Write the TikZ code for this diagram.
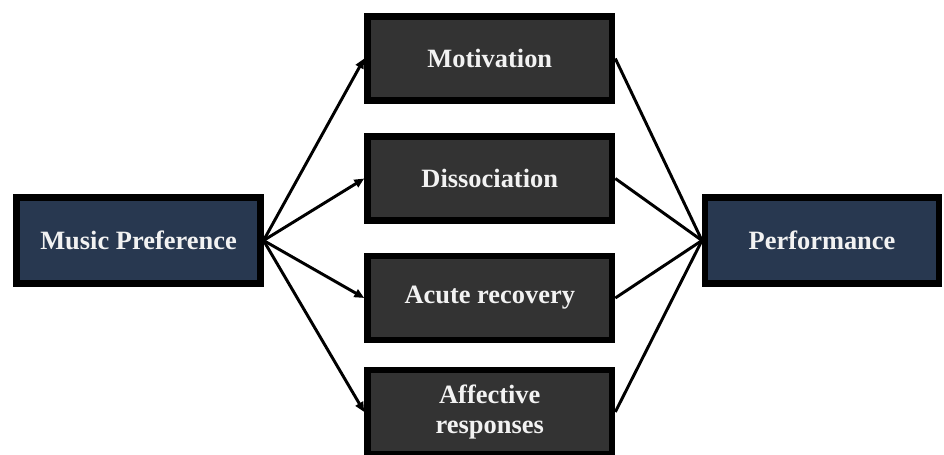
\documentclass[tikz,border=0pt]{standalone}
\usepackage{fontspec}
\setmainfont{Liberation Serif}
\usetikzlibrary{arrows.meta}
\definecolor{navyBox}{RGB}{40,56,80}
\definecolor{greyBox}{RGB}{51,51,51}
\definecolor{lightText}{RGB}{242,242,242}

\begin{document}
\begin{tikzpicture}[
    box/.style={draw=black,line width=4.6pt,text=lightText,align=center,
      inner sep=0pt,minimum height=2.11cm,
      font=\fontsize{18.8}{22}\selectfont\bfseries},
    outerbox/.style={box,fill=navyBox},
    midbox/.style={box,fill=greyBox,minimum width=6.115cm},
    link/.style={line width=2.1pt},
    arrowlink/.style={link,-{Triangle[length=7pt,width=6pt]}}
  ]
    \useasboundingbox (0,0) rectangle (23.6,11.375);

    % left and right ends
    \node[outerbox,minimum width=6.09cm,minimum height=2.14cm] (pref) at (3.4625,5.3625) {Music Preference};
    \node[outerbox,minimum width=5.84cm,minimum height=2.14cm] (perf) at (20.55,5.3625) {Performance};

    % mediators
    \node[midbox] (motiv)  at (12.244,9.9125) {Motivation};
    \node[midbox] (dissoc) at (12.244,6.9125) {Dissociation};
    \node[midbox] (recov)  at (12.244,3.925)  {Acute recovery};
    \node[midbox] (affect) at (12.244,1.075)  {Affective\\responses};

    \foreach \m in {motiv,dissoc,recov,affect} {
      \draw[arrowlink] (pref.east) -- (\m.west);
      \draw[link] (\m.east) -- (perf.west);
    }
\end{tikzpicture}
\end{document}
